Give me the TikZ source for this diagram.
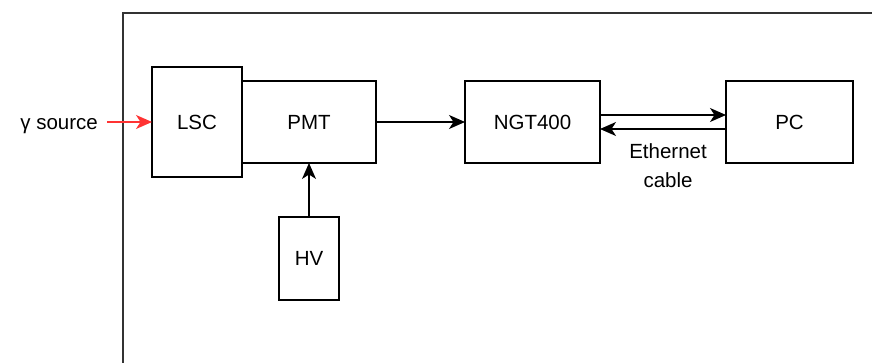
\documentclass[tikz,border=0pt]{standalone}
\usepackage{fontspec}
\setmainfont{Liberation Sans}
\usetikzlibrary{arrows.meta,positioning}
\tikzset{
  % Block: plain rectangle, sans label
  cbox/.style={draw, rectangle, line width=1.5pt, align=center, outer sep=0pt,
               minimum height=82pt, inner sep=0pt, font=\fontsize{20.5}{24}\selectfont},
  % Arrows
  flowarr/.style={-{Stealth[length=16pt, width=14pt, inset=4.5pt]}, line width=1.5pt},
  srcarr/.style={flowarr, draw=red!80},
  % Enclosure of the set-up (cut off by the page)
  frame/.style={line width=2pt, draw=black!80},
  lbl/.style={font=\fontsize{20.5}{29}\selectfont, align=center, inner sep=0pt}
}
\begin{document}
\begin{tikzpicture}[x=1pt, y=1pt]
\useasboundingbox (0,0) rectangle (872,-363);

% ============== enclosure ==============
\draw[frame] (872,-13) -- (123,-13) -- (123,-363);

% ============== detector chain ==============
\node[cbox, minimum width=90pt, minimum height=110pt] (lsc) at (197,-122) {LSC};
\node[cbox, minimum width=134pt, right=0pt of lsc] (pmt) {PMT};
\node[cbox, minimum width=135pt, right=89pt of pmt] (ngt) {NGT400};
\node[cbox, minimum width=127pt, right=126pt of ngt] (pc) {PC};
\node[cbox, minimum width=60pt, minimum height=83pt, below=54pt of pmt] (hv) {HV};

% source
\node[lbl, anchor=east] (src) at (98,-126) {γ source};

\draw[srcarr] ([xshift=9pt, yshift=4pt]src.east) -- (lsc.west);
\draw[flowarr] (pmt.east) -- (ngt.west);
\draw[flowarr] (hv.north) -- (pmt.south -| hv.north);

% Ethernet link
\draw[flowarr] ([yshift=7pt]ngt.east) -- ([yshift=7pt]pc.west);
\draw[flowarr] ([yshift=-7pt]pc.west) -- node[lbl, below=14pt, xshift=5pt] (eth) {Ethernet\\cable} ([yshift=-7pt]ngt.east);

\end{tikzpicture}
\end{document}
